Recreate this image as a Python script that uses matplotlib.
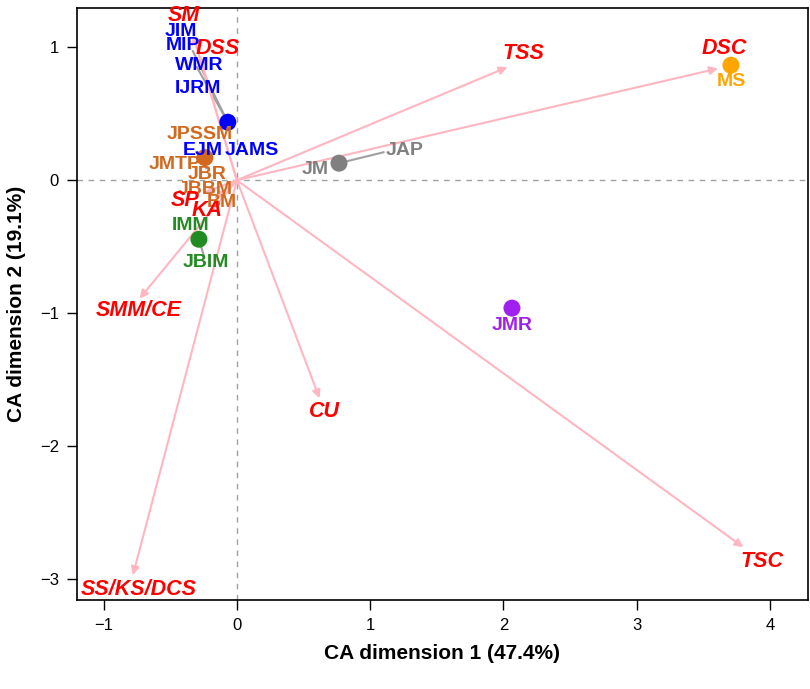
import matplotlib
matplotlib.use("Agg")
import matplotlib.pyplot as plt

plt.rcParams['font.family'] = ['Liberation Sans', 'DejaVu Sans']

# Column variables (arrows): tip coordinates and label positions
col_names = ["SM", "DSS", "TSS", "DSC", "TSC", "CU", "SS/KS/DCS", "SMM/CE", "SP", "KA"]
col_x = [-0.33, -0.28, 2.03, 3.61, 3.80, 0.62, -0.78, -0.73, -0.24, -0.17]
col_y = [1.09, 0.94, 0.85, 0.84, -2.76, -1.64, -2.97, -0.89, -0.09, -0.14]
col_lab_x = [-0.40, -0.14, 2.15, 3.66, 3.94, 0.66, -0.74, -0.74, -0.39, -0.225]
col_lab_y = [1.24, 0.99, 0.95, 0.99, -2.87, -1.74, -3.08, -0.98, -0.15, -0.23]

# Row groups: centroid dot, colour, member labels and their label positions
group_names = ["blue", "brown", "green", "grey", "purple", "orange"]
group_colors = ["#0000FF", "#D2691E", "#228B22", "#808080", "#A020F0", "#FFA500"]
group_x = [-0.068, -0.24, -0.285, 0.766, 2.064, 3.707]
group_y = [0.436, 0.17, -0.444, 0.128, -0.962, 0.865]

row_labels = ["JIM", "MIP", "WMR", "IJRM", "EJM", "JAMS",
              "JPSSM", "JMTP", "JBR", "JBBM", "BM",
              "IMM", "JBIM",
              "JM", "JAP",
              "JMR",
              "MS"]
row_group = [0, 0, 0, 0, 0, 0,
             1, 1, 1, 1, 1,
             2, 2,
             3, 3,
             4,
             5]
row_lab_x = [-0.42, -0.405, -0.285, -0.29, -0.255, 0.11,
             -0.28, -0.465, -0.22, -0.24, -0.11,
             -0.345, -0.23,
             0.585, 1.26,
             2.064,
             3.707]
row_lab_y = [1.12, 1.01, 0.865, 0.69, 0.225, 0.225,
             0.34, 0.12, 0.04, -0.07, -0.165,
             -0.34, -0.62,
             0.083, 0.225,
             -1.09,
             0.74]
# labels linked to their dot by a grey segment (segment end point)
seg_rows = ["MIP", "WMR", "JAP", "JBIM", "JBR"]
seg_end_x = [-0.33, -0.30, 1.10, -0.25, -0.23]
seg_end_y = [0.97, 0.85, 0.21, -0.56, 0.09]

fig = plt.figure(figsize=(8.10, 6.89), dpi=100)
ax = fig.add_axes([0.095, 0.129, 0.9025, 0.859])

ax.set_xlim(-1.20, 4.285)
ax.set_ylim(-3.158, 1.293)

ax.axhline(0, color="#A0A0A0", lw=1, ls=(0, (4, 4)), zorder=1)
ax.axvline(0, color="#A0A0A0", lw=1, ls=(0, (4, 4)), zorder=1)

# grey connector segments
for name, ex, ey in zip(seg_rows, seg_end_x, seg_end_y):
    g = row_group[row_labels.index(name)]
    ax.plot([group_x[g], ex], [group_y[g], ey], color="#A0A0A0", lw=1.5, zorder=2)

# arrows
for x, y in zip(col_x, col_y):
    ax.annotate("", xy=(x, y), xytext=(0, 0),
                arrowprops=dict(arrowstyle="-|>", color="#FFB6C1", lw=1.5,
                                mutation_scale=12, shrinkA=0, shrinkB=0),
                zorder=3)

# dots
for x, y, c in zip(group_x, group_y, group_colors):
    ax.scatter([x], [y], s=150, color=c, zorder=4, edgecolors="none")

# row labels
for name, g, x, y in zip(row_labels, row_group, row_lab_x, row_lab_y):
    ax.text(x, y, name, color=group_colors[g], fontsize=14, fontweight="bold",
            ha="center", va="center", zorder=5)

# column labels
for name, x, y in zip(col_names, col_lab_x, col_lab_y):
    ax.text(x, y, name, color="#FF0000", fontsize=15.5, fontweight="bold",
            fontstyle="italic", ha="center", va="center", zorder=6)

ax.set_xticks([-1, 0, 1, 2, 3, 4])
ax.set_yticks([-3, -2, -1, 0, 1])
ax.set_xticklabels(["\u22121", "0", "1", "2", "3", "4"])
ax.set_yticklabels(["\u22123", "\u22122", "\u22121", "0", "1"])
ax.tick_params(direction="out", length=7, width=1, labelsize=12, pad=6,
               colors="#000000")
for s in ax.spines.values():
    s.set_linewidth(1.2)

ax.set_xlabel("CA dimension 1 (47.4%)", fontsize=15, fontweight="bold", labelpad=8)
ax.set_ylabel("CA dimension 2 (19.1%)", fontsize=15, fontweight="bold", labelpad=10)

fig.savefig("out.png", dpi=100)
